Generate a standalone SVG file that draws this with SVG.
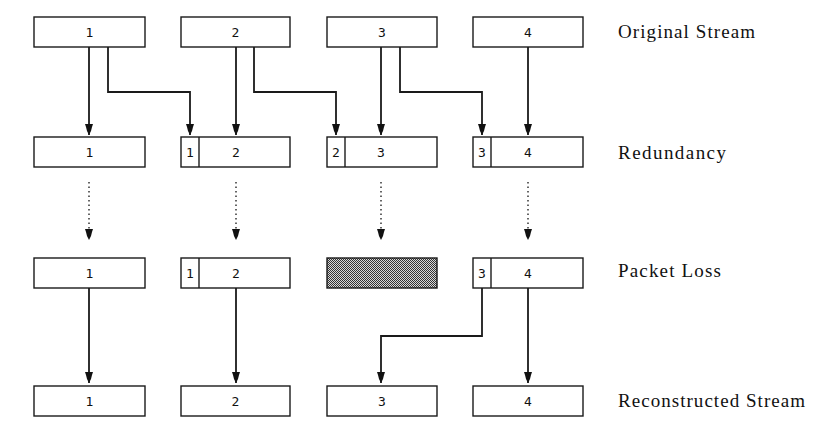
<svg xmlns="http://www.w3.org/2000/svg" width="822" height="425" viewBox="0 0 822 425">
<style>
.box{fill:#fff;stroke:#1a1a1a;stroke-width:1.4}
.num{font-family:"DejaVu Sans Mono","Liberation Mono",monospace;font-size:13px;fill:#111;text-anchor:middle}
.lbl{font-family:"Liberation Serif","DejaVu Serif","Times New Roman",serif;font-size:19px;fill:#111}
.c{fill:none;stroke:#1a1a1a;stroke-width:1.8;marker-end:url(#ah)}
.d{fill:none;stroke:#333;stroke-width:1.5;stroke-dasharray:1.5 3;marker-end:url(#ah)}
</style>
<defs>
<marker id="ah" markerUnits="userSpaceOnUse" viewBox="-11 -5 12 10" refX="0" refY="0" markerWidth="12" markerHeight="10" orient="auto" overflow="visible">
<polygon points="-11,-4 -11,4 -8,3 -4,2 0,0 -4,-2 -8,-3" fill="#111"/>
</marker>
<pattern id="hatch" width="2" height="2" patternUnits="userSpaceOnUse">
<rect width="2" height="2" fill="#d8d8d8"/>
<rect width="1" height="1" fill="#333"/>
<rect x="1" y="1" width="1" height="1" fill="#333"/>
</pattern>
</defs>
<rect width="822" height="425" fill="#fff"/>
<g id="connectors">
<path class="c" d="M89,47 V135"/>
<path class="c" d="M108,47 V92 H190 V135"/>
<path class="c" d="M236,47 V135"/>
<path class="c" d="M254,47 V92 H336 V135"/>
<path class="c" d="M381,47 V135"/>
<path class="c" d="M400,47 V92 H482 V135"/>
<path class="c" d="M528,47 V135"/>
<path class="d" d="M89,182 V240"/>
<path class="d" d="M236,182 V240"/>
<path class="d" d="M381,182 V240"/>
<path class="d" d="M528,182 V240"/>
<path class="c" d="M89,288 V383"/>
<path class="c" d="M236,288 V383"/>
<path class="c" d="M482,288 V336 H381 V383"/>
<path class="c" d="M528,288 V383"/>
</g>
<g id="orig-1"><rect class="box" x="34" y="17" width="111" height="30"/><text class="num" x="89.5" y="37">1</text></g>
<g id="orig-2"><rect class="box" x="181" y="17" width="109" height="30"/><text class="num" x="235.5" y="37">2</text></g>
<g id="orig-3"><rect class="box" x="327" y="17" width="110" height="30"/><text class="num" x="382" y="37">3</text></g>
<g id="orig-4"><rect class="box" x="473" y="17" width="110" height="30"/><text class="num" x="528" y="37">4</text></g>
<g id="red-1"><rect class="box" x="34" y="137" width="111" height="30"/><text class="num" x="89.5" y="157">1</text></g>
<g id="red-2"><rect class="box" x="181" y="137" width="109" height="30"/><line x1="199" y1="137" x2="199" y2="167" stroke="#1a1a1a" stroke-width="1.4"/><text class="num" x="190" y="157">1</text><text class="num" x="236" y="157">2</text></g>
<g id="red-3"><rect class="box" x="327" y="137" width="110" height="30"/><line x1="345" y1="137" x2="345" y2="167" stroke="#1a1a1a" stroke-width="1.4"/><text class="num" x="336" y="157">2</text><text class="num" x="381" y="157">3</text></g>
<g id="red-4"><rect class="box" x="473" y="137" width="110" height="30"/><line x1="491" y1="137" x2="491" y2="167" stroke="#1a1a1a" stroke-width="1.4"/><text class="num" x="482" y="157">3</text><text class="num" x="528" y="157">4</text></g>
<g id="loss-1"><rect class="box" x="34" y="258" width="111" height="30"/><text class="num" x="89.5" y="278">1</text></g>
<g id="loss-2"><rect class="box" x="181" y="258" width="109" height="30"/><line x1="199" y1="258" x2="199" y2="288" stroke="#1a1a1a" stroke-width="1.4"/><text class="num" x="190" y="278">1</text><text class="num" x="236" y="278">2</text></g>
<g id="loss-3"><rect x="327" y="258" width="110" height="30" fill="url(#hatch)" stroke="#1a1a1a" stroke-width="1.4"/></g>
<g id="loss-4"><rect class="box" x="473" y="258" width="110" height="30"/><line x1="491" y1="258" x2="491" y2="288" stroke="#1a1a1a" stroke-width="1.4"/><text class="num" x="482" y="278">3</text><text class="num" x="528" y="278">4</text></g>
<g id="rec-1"><rect class="box" x="34" y="386" width="111" height="30"/><text class="num" x="89.5" y="406">1</text></g>
<g id="rec-2"><rect class="box" x="181" y="386" width="109" height="30"/><text class="num" x="235.5" y="406">2</text></g>
<g id="rec-3"><rect class="box" x="327" y="386" width="110" height="30"/><text class="num" x="382" y="406">3</text></g>
<g id="rec-4"><rect class="box" x="473" y="386" width="110" height="30"/><text class="num" x="528" y="406">4</text></g>
<g id="labels">
<text class="lbl" x="618" y="38" textLength="137" lengthAdjust="spacing">Original Stream</text>
<text class="lbl" x="618" y="159" textLength="108" lengthAdjust="spacing">Redundancy</text>
<text class="lbl" x="618" y="277" textLength="103" lengthAdjust="spacing">Packet Loss</text>
<text class="lbl" x="618" y="407" textLength="187" lengthAdjust="spacing">Reconstructed Stream</text>
</g>
</svg>
